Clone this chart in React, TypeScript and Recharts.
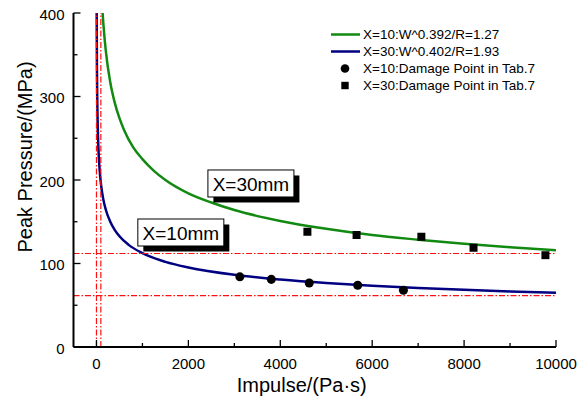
import React from 'react';
import {
  ComposedChart,
  Line,
  Scatter,
  XAxis,
  YAxis,
  ReferenceLine,
  ReferenceDot,
  Legend,
  Label,
} from 'recharts';

// ---- data ----
const greenImpulse = [130, 150, 200, 300, 400, 500, 600, 800, 1000, 1250, 1500, 2000, 2500, 3000, 4000, 5000, 6000, 7000, 8000, 9000, 10000];
const greenPressure = [403, 387, 356, 317, 292, 274, 260, 239, 225, 211, 200, 184, 173, 164, 151, 141.5, 134, 128.5, 123.6, 119.5, 116];

const blueImpulse = [4, 5, 7, 10, 15, 20, 30, 50, 75, 100, 150, 200, 300, 400, 500, 700, 1000, 1500, 2000, 3000, 4000, 5000, 6000, 7000, 8000, 9000, 10000];
const bluePressure = [418, 397, 366, 336, 305, 285, 259, 229, 208, 194, 176.5, 165, 150, 140, 132.6, 122.3, 112.4, 102, 95.3, 86.5, 80.8, 76.6, 73.4, 70.7, 68.5, 66.6, 65];

const circleImpulse = [3120, 3805, 4630, 5685, 6680];
const circlePressure = [84, 81, 76.6, 74, 68];

const squareImpulse = [4590, 5660, 7070, 8205, 9770];
const squarePressure = [138, 134, 132, 119, 110];

const xMajorTicks = [0, 2000, 4000, 6000, 8000, 10000];
const xMinorTicks = [1000, 3000, 5000, 7000, 9000];
const yMajorTicks = [0, 100, 200, 300, 400];
const yMinorTicks = [50, 150, 250, 350];

const hRefPressures = [112, 61.5];
const vRefImpulses = [0, 95];

const seriesNames = [
  'X=10:W^0.392/R=1.27',
  'X=30:W^0.402/R=1.93',
  'X=10:Damage Point in Tab.7',
  'X=30:Damage Point in Tab.7',
];

const annotationLabels = ['X=30mm', 'X=10mm'];
const annotationImpulse = [2425, 900];
const annotationPressure = [212, 153.3];

// ---- helpers ----
const zip = (xs: number[], ys: number[]) => xs.map((x, i) => ({ x, y: ys[i] }));
const greenData = zip(greenImpulse, greenPressure);
const blueData = zip(blueImpulse, bluePressure);
const circleData = zip(circleImpulse, circlePressure);
const squareData = zip(squareImpulse, squarePressure);

const FONT = '"Liberation Sans", Arial, sans-serif';
const GREEN = '#128a12';
const NAVY = '#000080';
const RED = '#ff1010';
const xTicksAll = [...xMajorTicks, ...xMinorTicks].sort((a, b) => a - b);
const yTicksAll = [...yMajorTicks, ...yMinorTicks].sort((a, b) => a - b);

const isXMajor = (v: number) => xMajorTicks.includes(v);
const isYMajor = (v: number) => yMajorTicks.includes(v);

const BottomTick = (p: any) => {
  const v = p.payload.value;
  const major = isXMajor(v);
  return (
    <g>
      <line x1={p.x} x2={p.x} y1={p.y} y2={p.y - (major ? 7 : 4)} stroke="#000" strokeWidth={1.3} />
      {major && (
        <text x={p.x} y={p.y + 16} textAnchor="middle" dominantBaseline="central" fontSize={15} fontFamily={FONT} fill="#000">
          {v}
        </text>
      )}
    </g>
  );
};

const TopTick = (p: any) => {
  const v = p.payload.value;
  const major = isXMajor(v);
  return <line x1={p.x} x2={p.x} y1={p.y} y2={p.y + (major ? 7 : 4)} stroke="#000" strokeWidth={1.3} />;
};

const LeftTick = (p: any) => {
  const v = p.payload.value;
  const major = isYMajor(v);
  return (
    <g>
      <line x1={p.x} x2={p.x + (major ? 7 : 4)} y1={p.y} y2={p.y} stroke="#000" strokeWidth={1.3} />
      {major && (
        <text x={p.x - 9} y={p.y + 1} textAnchor="end" dominantBaseline="central" fontSize={15} fontFamily={FONT} fill="#000">
          {v}
        </text>
      )}
    </g>
  );
};

const RightTick = (p: any) => {
  const v = p.payload.value;
  const major = isYMajor(v);
  return <line x1={p.x} x2={p.x - (major ? 7 : 4)} y1={p.y} y2={p.y} stroke="#000" strokeWidth={1.3} />;
};

const makeBox = (text: string) => (p: any) => {
  const w = 86;
  const h = 27;
  const { cx, cy } = p;
  return (
    <g>
      <rect x={cx + 5.5} y={cy + 5.5} width={w} height={h} fill="#000" />
      <rect x={cx} y={cy} width={w} height={h} fill="#fff" stroke="#000" strokeWidth={1} />
      <text x={cx + w / 2} y={cy + h / 2 + 1} textAnchor="middle" dominantBaseline="central" fontSize={19} fontFamily={FONT} fill="#000">
        {text}
      </text>
    </g>
  );
};

const LegendContent = () => {
  const rows = [
    { kind: 'line', color: GREEN },
    { kind: 'line', color: NAVY },
    { kind: 'circle', color: '#000' },
    { kind: 'square', color: '#000' },
  ];
  return (
    <div style={{ fontFamily: FONT, fontSize: 13.5, color: '#000' }}>
      {rows.map((r, i) => (
        <div key={i} style={{ display: 'flex', alignItems: 'center', height: 17 }}>
          <svg width={32} height={17} style={{ display: 'block' }}>
            {r.kind === 'line' && <line x1={0} x2={29} y1={8.5} y2={8.5} stroke={r.color} strokeWidth={2.5} />}
            {r.kind === 'circle' && <circle cx={14} cy={8.5} r={4.3} fill={r.color} />}
            {r.kind === 'square' && <rect x={10.3} y={4.8} width={7.4} height={7.4} fill={r.color} />}
          </svg>
          <span style={{ whiteSpace: 'nowrap' }}>{seriesNames[i]}</span>
        </div>
      ))}
    </div>
  );
};

export default function App() {
  return (
    <div style={{ position: 'absolute', left: 0, top: 0 }}>
      <ComposedChart
        width={578}
        height={405}
        margin={{ top: 13, right: 22, bottom: 0, left: 0 }}
        style={{ fontFamily: FONT }}
      >
        <XAxis
          xAxisId="b"
          type="number"
          dataKey="x"
          domain={[-500, 10000]}
          allowDataOverflow
          ticks={xTicksAll}
          interval={0}
          tickSize={0}
          tickMargin={0}
          tickLine={false}
          tick={<BottomTick />}
          height={58}
          axisLine={{ stroke: '#000', strokeWidth: 2 }}
        >
          <Label
            content={(p: any) => {
              const vb = p.viewBox;
              return (
                <text x={vb.x + vb.width / 2 - 13} y={vb.y + 44.5} textAnchor="middle" fontSize={20} fontFamily={FONT} fill="#000">
                  Impulse/(Pa·s)
                </text>
              );
            }}
          />
        </XAxis>
        <XAxis
          xAxisId="t"
          orientation="top"
          type="number"
          dataKey="x"
          domain={[-500, 10000]}
          allowDataOverflow
          ticks={xTicksAll}
          interval={0}
          tickSize={0}
          tickMargin={0}
          tickLine={false}
          tick={<TopTick />}
          height={0}
          axisLine={{ stroke: '#000', strokeWidth: 2 }}
        />
        <YAxis
          yAxisId="l"
          type="number"
          dataKey="y"
          domain={[0, 400]}
          allowDataOverflow
          ticks={yTicksAll}
          interval={0}
          tickSize={0}
          tickMargin={0}
          tickLine={false}
          tick={<LeftTick />}
          width={73.5}
          axisLine={{ stroke: '#000', strokeWidth: 2 }}
        >
          <Label
            content={(p: any) => {
              const vb = p.viewBox;
              const cx = vb.x + 25;
              const cy = vb.y + vb.height / 2 - 23;
              return (
                <text
                  x={cx}
                  y={cy}
                  transform={`rotate(-90 ${cx} ${cy})`}
                  textAnchor="middle"
                  dominantBaseline="central"
                  fontSize={20}
                  fontFamily={FONT}
                  fill="#000"
                >
                  Peak Pressure/(MPa)
                </text>
              );
            }}
          />
        </YAxis>
        <YAxis
          yAxisId="r"
          orientation="right"
          type="number"
          dataKey="y"
          domain={[0, 400]}
          allowDataOverflow
          ticks={yTicksAll}
          interval={0}
          tickSize={0}
          tickMargin={0}
          tickLine={false}
          tick={<RightTick />}
          width={0}
          axisLine={{ stroke: '#000', strokeWidth: 2 }}
        />

        <Line
          xAxisId="b"
          yAxisId="l"
          data={greenData}
          dataKey="y"
          type="monotone"
          stroke={GREEN}
          strokeWidth={2.5}
          dot={false}
          isAnimationActive={false}
          name={seriesNames[0]}
        />
        <Line
          xAxisId="b"
          yAxisId="l"
          data={blueData}
          dataKey="y"
          type="monotone"
          stroke={NAVY}
          strokeWidth={2.5}
          dot={false}
          isAnimationActive={false}
          name={seriesNames[1]}
        />

        {hRefPressures.map((v) => (
          <ReferenceLine key={'h' + v} xAxisId="b" yAxisId="l" y={v} stroke={RED} strokeWidth={1.2} strokeDasharray="6 2 1.5 2" />
        ))}
        {vRefImpulses.map((v) => (
          <ReferenceLine key={'v' + v} xAxisId="b" yAxisId="l" x={v} stroke={RED} strokeWidth={1.2} strokeDasharray="6 2 1.5 2" />
        ))}

        <Scatter
          xAxisId="b"
          yAxisId="l"
          data={circleData}
          dataKey="y"
          shape="circle"
          fill="#000"
          isAnimationActive={false}
          name={seriesNames[2]}
        />
        <Scatter
          xAxisId="b"
          yAxisId="l"
          data={squareData}
          dataKey="y"
          shape="square"
          fill="#000"
          isAnimationActive={false}
          name={seriesNames[3]}
        />

        {annotationLabels.map((t, i) => (
          <ReferenceDot
            key={t}
            xAxisId="b"
            yAxisId="l"
            x={annotationImpulse[i]}
            y={annotationPressure[i]}
            r={0}
            shape={makeBox(t)}
          />
        ))}

        <Legend
          layout="horizontal"
          verticalAlign="middle"
          align="center"
          content={<LegendContent />}
          wrapperStyle={{ left: 331, top: 25.5, width: 240, height: 70 }}
        />
      </ComposedChart>
    </div>
  );
}
